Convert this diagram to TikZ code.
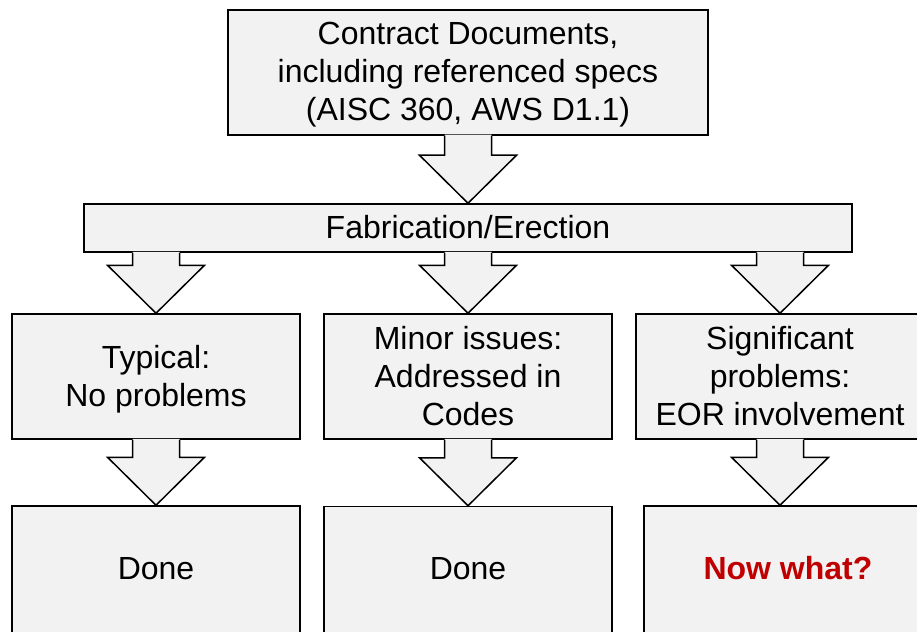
\documentclass[tikz,border=0pt]{standalone}
\usepackage{fontspec}
\setmainfont{Liberation Sans}
\usetikzlibrary{calc}
\definecolor{boxfill}{HTML}{F2F2F2}
\definecolor{nowred}{HTML}{C00000}
\newcommand\ls{\rule[-8.5pt]{0pt}{38pt}}
\tikzset{
  box/.style={draw=black, line width=1.5pt, fill=boxfill, rectangle, inner sep=0pt,
    align=center, font=\fontsize{32}{38}\selectfont},
  arrowline/.style={draw=black, line width=1.5pt, line join=miter},
}
% #1: node giving the arrow's x, #2: parent (top), #3: child (bottom)
\newcommand\blockarrow[3]{%
  \fill[boxfill] let \p1=(#2.south), \p2=(#3.north), \p3=(#1.center) in
    (\x3-23.5pt,\y1+1pt) -- (\x3-23.5pt,\y2+48pt) -- (\x3-48.5pt,\y2+48pt) --
    (\x3,\y2) -- (\x3+48.5pt,\y2+48pt) -- (\x3+23.5pt,\y2+48pt) --
    (\x3+23.5pt,\y1+1pt) -- cycle;
  \draw[arrowline] let \p1=(#2.south), \p2=(#3.north), \p3=(#1.center) in
    (\x3-23.5pt,\y1) -- (\x3-23.5pt,\y2+48pt) -- (\x3-48.5pt,\y2+48pt) --
    (\x3,\y2) -- (\x3+48.5pt,\y2+48pt) -- (\x3+23.5pt,\y2+48pt) --
    (\x3+23.5pt,\y1);
}
\begin{document}
\begin{tikzpicture}[x=1pt,y=-1pt]
\useasboundingbox (0,0) rectangle (917,631);
% top
\node[box, minimum width=480pt, minimum height=125pt] (contract) at (468,72.5)
  {\ls Contract Documents,\\\ls including referenced specs\\\ls (AISC 360, AWS D1.1)};
\node[box, minimum width=768pt, minimum height=48pt] (fab) at (468,228)
  {\ls Fabrication/Erection};
% middle row
\node[box, minimum width=288pt, minimum height=125pt] (typ) at (156,376.5)
  {\ls Typical:\\\ls No problems};
\node[box, minimum width=288pt, minimum height=125pt] (minor) at (468,376.5)
  {\ls Minor issues:\\\ls Addressed in\\\ls Codes};
\node[box, minimum width=288pt, minimum height=125pt] (sig) at (780,376.5)
  {\ls Significant\\\ls problems:\\\ls EOR involvement};
% bottom row
\node[box, minimum width=288pt, minimum height=140pt] (done1) at (156,576)
  {\raisebox{7.5pt}[29.5pt][8.5pt]{Done}};
\node[box, minimum width=288pt, minimum height=140pt] (done2) at (468,576.5)
  {\raisebox{7.5pt}[29.5pt][8.5pt]{Done}};
\node[box, minimum width=288pt, minimum height=140pt] (what) at (788,576)
  {\raisebox{7.5pt}[29.5pt][8.5pt]{\textcolor{nowred}{\bfseries Now what?}}};
% arrows
\blockarrow{contract}{contract}{fab}
\blockarrow{typ}{fab}{typ}
\blockarrow{minor}{fab}{minor}
\blockarrow{sig}{fab}{sig}
\blockarrow{typ}{typ}{done1}
\blockarrow{minor}{minor}{done2}
\blockarrow{sig}{sig}{what}
\end{tikzpicture}
\end{document}
